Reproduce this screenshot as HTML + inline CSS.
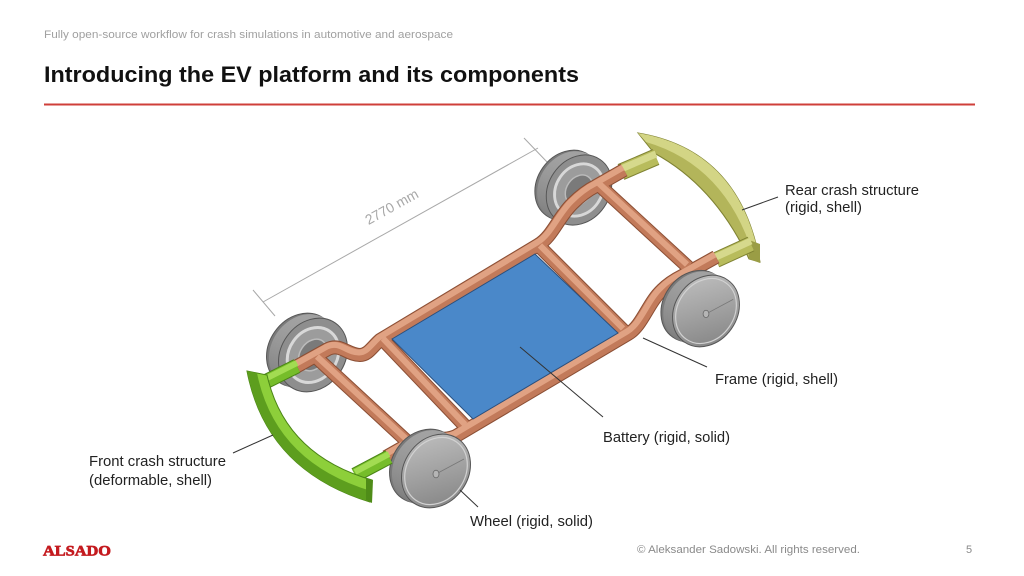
<!DOCTYPE html>
<html><head><meta charset="utf-8"><style>
html,body{margin:0;padding:0;background:#fff;}
svg{display:block;}
text{font-family:"Liberation Sans",Arial,sans-serif;}
</style></head><body>
<svg width="1024" height="576" viewBox="0 0 1024 576" xmlns="http://www.w3.org/2000/svg">
<defs>
<linearGradient id="faceG" x1="0" y1="0" x2="1" y2="1">
<stop offset="0" stop-color="#c4c4c4"/><stop offset="0.5" stop-color="#a2a2a2"/><stop offset="1" stop-color="#7e7e7e"/>
</linearGradient>
<linearGradient id="treadG" x1="0" y1="0" x2="1" y2="1">
<stop offset="0" stop-color="#ababab"/><stop offset="1" stop-color="#6e6e6e"/>
</linearGradient>
<g id="tread">
<ellipse cx="-12" cy="-5" rx="32" ry="39" transform="rotate(35 -12 -5)" fill="#7a7a7a" stroke="#555" stroke-width="1"/>
<ellipse cx="-9.6" cy="-4" rx="32" ry="39" transform="rotate(35 -9.6 -4)" fill="url(#treadG)"/>
<ellipse cx="-7.2" cy="-3" rx="32" ry="39" transform="rotate(35 -7.2 -3)" fill="url(#treadG)"/>
<ellipse cx="-4.8" cy="-2" rx="32" ry="39" transform="rotate(35 -4.8 -2)" fill="url(#treadG)"/>
<ellipse cx="-2.4" cy="-1" rx="32" ry="39" transform="rotate(35 -2.4 -1)" fill="url(#treadG)"/>
</g>
<g id="wheelNear">
<use href="#tread"/>
<ellipse cx="0" cy="0" rx="32" ry="39" transform="rotate(35)" fill="url(#faceG)" stroke="#555" stroke-width="1"/>
<ellipse cx="0" cy="0" rx="29" ry="35.5" transform="rotate(35)" fill="none" stroke="#d2d2d2" stroke-width="1.2"/>
<line x1="0" y1="3" x2="28" y2="-12" stroke="#777" stroke-width="0.8"/>
<ellipse cx="0" cy="3" rx="3" ry="3.8" fill="#b5b5b5" stroke="#666" stroke-width="0.8"/>
</g>
<g id="wheelFar">
<use href="#tread"/>
<ellipse cx="0" cy="0" rx="32" ry="39" transform="rotate(35)" fill="#8e8e8e" stroke="#555" stroke-width="1"/>
<ellipse cx="0" cy="0" rx="24" ry="29" transform="rotate(35)" fill="#9c9c9c" stroke="#d8d8d8" stroke-width="3"/>
<ellipse cx="0" cy="0" rx="13" ry="17" transform="rotate(35)" fill="#7a7a7a" stroke="#bbb" stroke-width="1.5"/>
</g>
</defs>

<!-- header -->
<text x="44" y="38" font-size="11" fill="#a0a0a0" textLength="409" lengthAdjust="spacingAndGlyphs">Fully open-source workflow for crash simulations in automotive and aerospace</text>
<text x="44" y="82" font-size="22" font-weight="bold" fill="#111" textLength="535" lengthAdjust="spacingAndGlyphs">Introducing the EV platform and its components</text>
<line x1="44" y1="104.5" x2="975" y2="104.5" stroke="#cf3f3a" stroke-width="2"/>

<!-- dimension -->
<g stroke="#a8a8a8" stroke-width="1" fill="none">
<line x1="263" y1="302" x2="538" y2="148"/>
<line x1="253" y1="290" x2="275" y2="316"/>
<line x1="524" y1="138" x2="548" y2="163"/>
</g>
<text x="0" y="0" font-size="14" fill="#a8a8a8" text-anchor="middle" transform="translate(394,211) rotate(-29)">2770 mm</text>

<!-- far wheels -->
<use href="#wheelFar" transform="translate(313,355)"/>
<use href="#wheelFar" transform="translate(579,190) scale(0.95)"/>

<!-- rear crash structure -->
<path d="M638,133 Q740,150 760,262 L749,259 Q715,186 654,153 Z" fill="#b3b55a" stroke="#7f8233" stroke-width="1"/>
<path d="M638,133 Q740,150 760,262 L755,261 Q728,166 646,142 Z" fill="#d3d585"/>
<path d="M749,240 L760,244 L760,263 L749,259 Z" fill="#9a9d45"/>
<g stroke-linecap="butt">
<line x1="621" y1="172" x2="656" y2="157" stroke="#7f8233" stroke-width="17"/>
<line x1="621" y1="172" x2="656" y2="157" stroke="#b8bc5c" stroke-width="15"/>
<line x1="621" y1="169" x2="656" y2="154" stroke="#d6d98c" stroke-width="7"/>
<line x1="716" y1="260" x2="751" y2="244" stroke="#7f8233" stroke-width="16"/>
<line x1="716" y1="260" x2="751" y2="244" stroke="#b8bc5c" stroke-width="14"/>
<line x1="716" y1="257" x2="751" y2="241" stroke="#d6d98c" stroke-width="7"/>
</g>

<!-- frame -->
<g fill="none" stroke-linejoin="round" stroke-linecap="butt">
<g stroke="#8a4e34" stroke-width="14">
<path d="M292,369 L328,349 C340,343 348,355 360,355 C368,355 372,347 380,340 L538,245 C552,237 558,218 572,204 C580,196 588,190 596,186 L624,170"/>
<path d="M386,457 L416,440 C428,434 440,443 456,436 L628,334 C642,326 648,303 662,290 C668,284 674,280 682,276 L716,257"/>
<path d="M318,359 L410,444"/><path d="M384,341 L466,427"/><path d="M541,248 L624,331"/><path d="M600,186 L688,267"/>
</g>
<g stroke="#c27a5a" stroke-width="12">
<path d="M292,369 L328,349 C340,343 348,355 360,355 C368,355 372,347 380,340 L538,245 C552,237 558,218 572,204 C580,196 588,190 596,186 L624,170"/>
<path d="M386,457 L416,440 C428,434 440,443 456,436 L628,334 C642,326 648,303 662,290 C668,284 674,280 682,276 L716,257"/>
<path d="M318,359 L410,444"/><path d="M384,341 L466,427"/><path d="M541,248 L624,331"/><path d="M600,186 L688,267"/>
</g>
<g stroke="#e0a283" stroke-width="6" transform="translate(-1,-2.5)">
<path d="M292,369 L328,349 C340,343 348,355 360,355 C368,355 372,347 380,340 L538,245 C552,237 558,218 572,204 C580,196 588,190 596,186 L624,170"/>
<path d="M386,457 L416,440 C428,434 440,443 456,436 L628,334 C642,326 648,303 662,290 C668,284 674,280 682,276 L716,257"/>
<path d="M318,359 L410,444"/><path d="M384,341 L466,427"/><path d="M541,248 L624,331"/><path d="M600,186 L688,267"/>
</g>
</g>

<!-- battery -->
<polygon points="392,339 535,254 618,333 473,419" fill="#4a88c9" stroke="#2b4f7c" stroke-width="1"/>

<!-- near wheels -->
<use href="#wheelNear" transform="translate(706,311) scale(0.97)"/>
<use href="#wheelNear" transform="translate(436,471)"/>

<!-- front crash structure -->
<g stroke-linecap="butt">
<line x1="263" y1="383" x2="297" y2="366" stroke="#4a8416" stroke-width="15"/>
<line x1="263" y1="383" x2="297" y2="366" stroke="#76bd2a" stroke-width="13"/>
<line x1="263" y1="380" x2="297" y2="363" stroke="#a2dc52" stroke-width="6"/>
<line x1="355" y1="475" x2="389" y2="457" stroke="#4a8416" stroke-width="15"/>
<line x1="355" y1="475" x2="389" y2="457" stroke="#76bd2a" stroke-width="13"/>
<line x1="355" y1="472" x2="389" y2="454" stroke="#a2dc52" stroke-width="6"/>
</g>
<path d="M247,371 Q266,470 370,502 L372,480 Q285,455 267,375 Z" fill="#8dcf3a" stroke="#4a8416" stroke-width="1"/>
<path d="M247,371 Q266,470 370,502 L371,491 Q275,462 257,373 Z" fill="#5d9e1e"/>
<path d="M366,478 L373,480 L372,503 L366,500 Z" fill="#4f8c18"/>

<!-- leader lines -->
<g stroke="#333" stroke-width="1">
<line x1="742" y1="210" x2="778" y2="197"/>
<line x1="643" y1="338" x2="707" y2="367"/>
<line x1="520" y1="347" x2="603" y2="417"/>
<line x1="460" y1="490" x2="478" y2="507"/>
<line x1="233" y1="453" x2="273" y2="435"/>
</g>

<!-- labels -->
<g font-size="15" fill="#222">
<text x="785" y="195" textLength="134" lengthAdjust="spacingAndGlyphs">Rear crash structure</text>
<text x="785" y="212" textLength="77" lengthAdjust="spacingAndGlyphs">(rigid, shell)</text>
<text x="715" y="384" textLength="123" lengthAdjust="spacingAndGlyphs">Frame (rigid, shell)</text>
<text x="603" y="442" textLength="127" lengthAdjust="spacingAndGlyphs">Battery (rigid, solid)</text>
<text x="470" y="526" textLength="123" lengthAdjust="spacingAndGlyphs">Wheel (rigid, solid)</text>
<text x="89" y="466" textLength="137" lengthAdjust="spacingAndGlyphs">Front crash structure</text>
<text x="89" y="485" textLength="123" lengthAdjust="spacingAndGlyphs">(deformable, shell)</text>
</g>

<!-- footer -->
<text x="43" y="555.5" font-weight="bold" font-size="15" fill="#c41a1f" stroke="#c41a1f" stroke-width="0.7" textLength="68" lengthAdjust="spacingAndGlyphs" style="font-family:'Liberation Serif',serif">ALSADO</text>
<text x="637" y="553" font-size="11" fill="#8a8a8a" textLength="223" lengthAdjust="spacingAndGlyphs">© Aleksander Sadowski. All rights reserved.</text>
<text x="966" y="553" font-size="11" fill="#8a8a8a">5</text>
</svg>
</body></html>
